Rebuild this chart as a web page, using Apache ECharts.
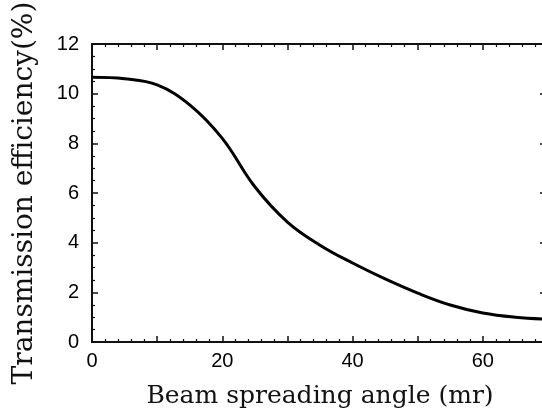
<!DOCTYPE html>
<html>
<head>
<meta charset="utf-8">
<script src="https://cdn.jsdelivr.net/npm/echarts@6/dist/echarts.min.js"></script>
<style>
html,body{margin:0;padding:0;background:#fff;}
#chart{width:542px;height:410px;}
</style>
</head>
<body>
<div id="chart"></div>
<script>
// beam spreading angle (mr)
var angles = [0, 5, 10, 15, 20, 25, 30, 35, 40, 45, 50, 55, 60, 65, 70];
// transmission efficiency (%)
var efficiency = [10.66, 10.6, 10.35, 9.55, 8.2, 6.25, 4.83, 3.9, 3.18, 2.54, 1.97, 1.49, 1.17, 1.0, 0.92];
var xTicks = [0, 20, 40, 60];

var pts = [];
for (var i = 0; i < angles.length; i++) {
	pts.push([angles[i], efficiency[i]]);
}

var tickFont = {fontFamily: 'Liberation Sans', fontSize: 20, color: '#000'};

var option = {
	backgroundColor: '#fff',
	animation: false,
	grid: {left: 92, top: 44, right: -6, bottom: 68, outerBoundsMode: 'none', containLabel: false},
	xAxis: [
		{
			type: 'value', min: 0, max: 70, interval: 10,
			name: 'Beam spreading angle (mr)',
			nameLocation: 'middle', nameGap: 42,
			nameTextStyle: {fontFamily: 'DejaVu Serif', fontSize: 25, color: '#111'},
			axisLine: {onZero: false, lineStyle: {color: '#111', width: 2}},
			axisTick: {inside: true, length: 6, lineStyle: {color: '#111', width: 1.5}},
			minorTick: {show: true, splitNumber: 5, length: 3, lineStyle: {color: '#111', width: 1.2}},
			axisLabel: Object.assign({
				margin: 9,
				formatter: function (v) { return xTicks.indexOf(v) >= 0 ? v : ''; }
			}, tickFont),
			splitLine: {show: false}
		},
		{
			type: 'value', min: 0, max: 70, interval: 10, position: 'top',
			axisLine: {onZero: false, lineStyle: {color: '#111', width: 2}},
			axisTick: {inside: true, length: 6, lineStyle: {color: '#111', width: 1.5}},
			minorTick: {show: true, splitNumber: 5, length: 3, lineStyle: {color: '#111', width: 1.2}},
			axisLabel: {show: false},
			splitLine: {show: false}
		}
	],
	yAxis: [
		{
			type: 'value', min: 0, max: 12, interval: 2,
			name: 'Transmission efficiency(%)',
			nameLocation: 'middle', nameGap: 53,
			nameTextStyle: {fontFamily: 'DejaVu Serif', fontSize: 28, color: '#111'},
			axisLine: {show: true, onZero: false, lineStyle: {color: '#111', width: 2}},
			axisTick: {show: true, inside: true, length: 6, lineStyle: {color: '#111', width: 1.5}},
			minorTick: {show: true, splitNumber: 4, length: 3, lineStyle: {color: '#111', width: 1.2}},
			axisLabel: Object.assign({margin: 13}, tickFont),
			splitLine: {show: false}
		},
		{
			type: 'value', min: 0, max: 12, interval: 2, position: 'right',
			axisLine: {show: true, onZero: false, lineStyle: {color: '#111', width: 2}},
			axisTick: {show: true, inside: true, length: 8, lineStyle: {color: '#111', width: 1.5}},
			minorTick: {show: true, splitNumber: 4, length: 3, lineStyle: {color: '#111', width: 1.2}},
			axisLabel: {show: false},
			splitLine: {show: false}
		}
	],
	series: [
		{
			type: 'line',
			data: pts,
			smooth: 0.4,
			showSymbol: false,
			lineStyle: {color: '#000', width: 3}
		}
	]
};

echarts.init(document.getElementById('chart')).setOption(option);
</script>
</body>
</html>
